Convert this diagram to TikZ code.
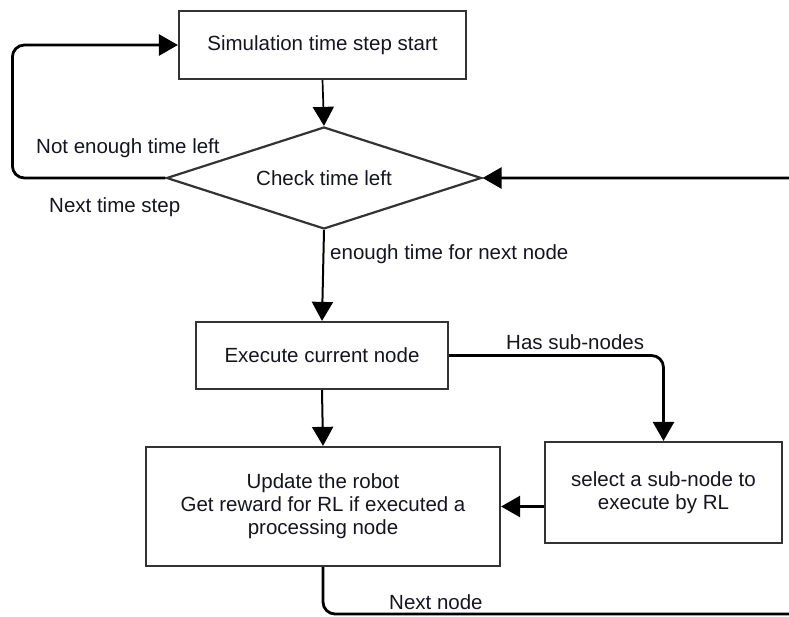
\documentclass[tikz,border=0pt]{standalone}
\usepackage{fontspec}
\setmainfont{Liberation Sans}
\usetikzlibrary{arrows.meta,shapes.geometric}
\definecolor{edge}{HTML}{333333}
\definecolor{ink}{HTML}{151520}
\begin{document}
\begin{tikzpicture}[x=1pt,y=-1pt,
  every node/.style={font=\fontsize{20.5}{23}\selectfont, text=ink},
  box/.style={draw=edge, line width=2.2pt, fill=white, inner sep=0pt, align=center},
  decision/.style={diamond, draw=edge, line width=2.2pt, fill=white, inner sep=0pt, aspect=3.09,
    minimum width=315pt, minimum height=102pt},
  tip/.style={-{Triangle[length=19pt,width=21pt]}},
  thinflow/.style={tip, line width=1.7pt},
  flow/.style={tip, line width=2.8pt},
  lbl/.style={anchor=west, inner sep=0pt}]
\useasboundingbox (0,0) rectangle (789,617);
\clip (0,0) rectangle (789,617);

% process steps
\node[box, minimum width=287pt, minimum height=68pt] (start) at (322.5,45) {Simulation time step start};
\node[decision] (check) at (324,178) {Check time left};
\node[box, minimum width=252pt, minimum height=67pt] (exec) at (322,355.5) {Execute current node};
\node[box, minimum width=354pt, minimum height=119pt] (update) at (323,506.5)
  {Update the robot\\Get reward for RL if executed a\\processing node};
\node[box, minimum width=237pt, minimum height=101pt] (select) at (663.5,492.5)
  {select a sub-node to\\execute by RL};

% connectors
\draw[thinflow] (start.south) -- (check.north);
\draw[flow, rounded corners=12pt] (check.west) -- ++(-153,0) |- (start.west);
\draw[thinflow, line width=2pt] (check.south) -- (exec.north);
\draw[flow, rounded corners=12pt] (exec.east) -| (select.north);
\draw[thinflow, line width=2pt] (exec.south) -- (update.north);
\draw[flow] (select.west |- update.east) -- (update.east);
% loop back from the update step, running along the right edge
\draw[flow, rounded corners=12pt] (update.south) |- (805,614) |- (check.east);

% connector labels
\node[lbl] (notenough) at (36,148) {Not enough time left};
\node[lbl] (nextstep) at (49,207) {Next time step};
\node[lbl] (enough) at (330,254) {enough time for next node};
\node[lbl] (subnodes) at (506,342) {Has sub-nodes};
\node[lbl] (nextnode) at (389,602) {Next node};
\end{tikzpicture}
\end{document}
